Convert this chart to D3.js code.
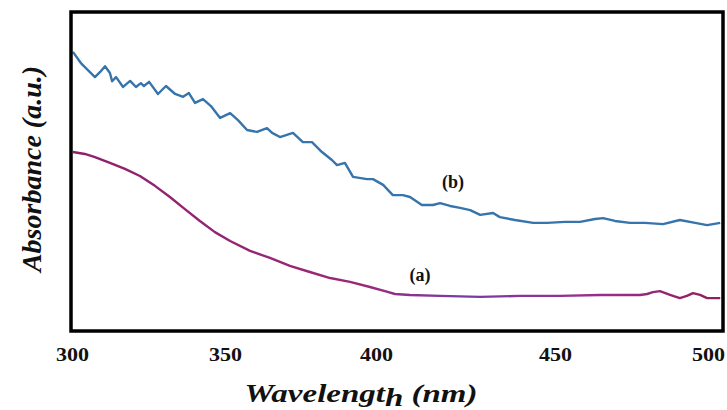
<!DOCTYPE html>
<html>
<head>
<meta charset="utf-8">
<script src="https://cdn.jsdelivr.net/npm/d3@7"></script>
<style>
  body { margin: 0; background: #fff; }
  svg { display: block; }
  svg text { font-family: "Liberation Serif", "Times New Roman", Times, "DejaVu Serif", serif; }
</style>
</head>
<body>
<div id="chart"></div>
<script>
// UV-vis absorbance
const wavelengthB = [300.3, 302.9, 305.2, 307.5, 309.2, 310.8, 312.4, 313.1, 314.4, 316.7, 319.0, 320.9, 322.5, 323.5, 325.2,
    328.1, 330.7, 333.7, 336.3, 338.2, 340.2, 342.8, 345.4, 348.4, 351.7, 354.3, 357.3, 360.6, 363.9, 365.6, 368.2,
    372.5, 375.8, 378.8, 382.1, 385.4, 387.1, 389.7, 392.4, 397.0, 399.0, 402.0, 404.7, 407.5, 409.5, 412.8, 415.9,
    417.9, 420.7, 423.5, 426.3, 429.1, 432.7, 434.6, 438.8, 443.9, 447.8, 453.3, 458.2, 463.1, 465.7, 469.6, 474.5,
    479.4, 485.3, 490.8, 495.8, 499.7, 504.0];
const absorbanceB = [0.875, 0.840, 0.818, 0.796, 0.812, 0.830, 0.809, 0.783, 0.796, 0.765, 0.784, 0.765, 0.777, 0.768, 0.781,
    0.743, 0.768, 0.743, 0.734, 0.746, 0.715, 0.727, 0.705, 0.668, 0.683, 0.661, 0.630, 0.624, 0.636, 0.621, 0.608,
    0.621, 0.592, 0.592, 0.561, 0.536, 0.520, 0.527, 0.483, 0.476, 0.476, 0.458, 0.426, 0.426, 0.420, 0.395, 0.395,
    0.401, 0.392, 0.386, 0.379, 0.364, 0.370, 0.357, 0.348, 0.339, 0.339, 0.342, 0.342, 0.351, 0.354, 0.345, 0.339,
    0.339, 0.335, 0.348, 0.339, 0.332, 0.339];

const wavelengthA = [300.3, 304.2, 307.5, 312.4, 317.3, 322.2, 327.1, 332.0, 336.9, 341.8, 346.7, 351.7, 358.3, 364.9, 371.5,
    378.1, 384.8, 391.4, 398.0, 402.5, 405.3, 409.5, 417.9, 429.1, 440.2, 451.6, 464.7, 474.5, 477.8, 480.1, 482.0,
    484.3, 487.6, 490.8, 493.1, 495.1, 497.4, 499.7, 504.0];
const absorbanceA = [0.561, 0.555, 0.545, 0.527, 0.508, 0.486, 0.455, 0.420, 0.382, 0.345, 0.310, 0.282, 0.251, 0.229, 0.204,
    0.185, 0.166, 0.154, 0.138, 0.125, 0.116, 0.113, 0.110, 0.107, 0.110, 0.110, 0.113, 0.113, 0.113, 0.116, 0.122,
    0.125, 0.113, 0.103, 0.110, 0.119, 0.113, 0.103, 0.103];

const tickValues = [300, 350, 400, 450, 500];
// the printed tick labels are not evenly spaced, so the scale follows them
const tickPixels = [72, 225, 376, 555, 708];

const width = 727;
const height = 410;
const frame = { left: 71, top: 12, right: 723, bottom: 331 };

const svg = d3.select("#chart")
    .append("svg")
    .attr("width", width)
    .attr("height", height);

const x = d3.scaleLinear()
    .domain(tickValues)
    .range(tickPixels);

const y = d3.scaleLinear()
    .domain([0, 1])
    .range([frame.bottom, frame.top]);

// colour along the (a) curve drifts from magenta to violet and back
const defs = svg.append("defs");
const grad = defs.append("linearGradient")
    .attr("id", "gradA")
    .attr("gradientUnits", "userSpaceOnUse")
    .attr("x1", x(300)).attr("x2", x(504))
    .attr("y1", 0).attr("y2", 0);
grad.append("stop").attr("offset", "0%").attr("stop-color", "#8e1f6c");
grad.append("stop").attr("offset", "45%").attr("stop-color", "#9a2a78");
grad.append("stop").attr("offset", "60%").attr("stop-color", "#7a3aa6");
grad.append("stop").attr("offset", "80%").attr("stop-color", "#9a2f8a");
grad.append("stop").attr("offset", "100%").attr("stop-color", "#8e1f5c");

const line = d3.line()
    .x(d => x(d[0]))
    .y(d => y(d[1]));

const seriesA = d3.zip(wavelengthA, absorbanceA);
const seriesB = d3.zip(wavelengthB, absorbanceB);

svg.append("path")
    .datum(seriesB)
    .attr("d", line)
    .attr("fill", "none")
    .attr("stroke", "#3674ac")
    .attr("stroke-width", 2.4)
    .attr("stroke-linejoin", "round");

svg.append("path")
    .datum(seriesA)
    .attr("d", line)
    .attr("fill", "none")
    .attr("stroke", "url(#gradA)")
    .attr("stroke-width", 2.4)
    .attr("stroke-linejoin", "round");

// frame
svg.append("rect")
    .attr("x", frame.left)
    .attr("y", frame.top)
    .attr("width", frame.right - frame.left)
    .attr("height", frame.bottom - frame.top)
    .attr("fill", "none")
    .attr("stroke", "#000")
    .attr("stroke-width", 3.5);

// x tick labels
const xAxis = svg.append("g")
    .attr("transform", `translate(0,${frame.bottom})`)
    .call(d3.axisBottom(x).tickValues(tickValues).tickSize(0).tickPadding(17).tickFormat(d3.format("d")));
xAxis.select(".domain").remove();
xAxis.selectAll("text")
    .attr("font-weight", "bold")
    .attr("font-size", "19px")
    .attr("fill", "#111")
    .attr("transform", "scale(1.16,1)");

// curve labels
svg.append("text")
    .attr("x", x(421.5))
    .attr("y", y(0.448))
    .attr("text-anchor", "middle")
    .attr("font-weight", "bold")
    .attr("font-size", "18px")
    .attr("fill", "#111")
    .text("(b)");

svg.append("text")
    .attr("x", x(412.3))
    .attr("y", y(0.157))
    .attr("text-anchor", "middle")
    .attr("font-weight", "bold")
    .attr("font-size", "18px")
    .attr("fill", "#111")
    .text("(a)");

// axis titles
const xTitle = svg.append("text")
    .attr("transform", "translate(361,402) scale(1.32,1)")
    .attr("text-anchor", "middle")
    .attr("font-weight", "bold")
    .attr("font-style", "italic")
    .attr("font-size", "25px")
    .attr("fill", "#111");
xTitle.append("tspan").text("Wavelengt");
xTitle.append("tspan").attr("dy", 4).text("h");
xTitle.append("tspan").attr("dy", -4).text(" (nm)");

svg.append("text")
    .attr("transform", "translate(41,169) rotate(-90)")
    .attr("text-anchor", "middle")
    .attr("font-weight", "bold")
    .attr("font-style", "italic")
    .attr("font-size", "28px")
    .attr("fill", "#111")
    .text("Absorbance (a.u.)");
</script>
</body>
</html>
